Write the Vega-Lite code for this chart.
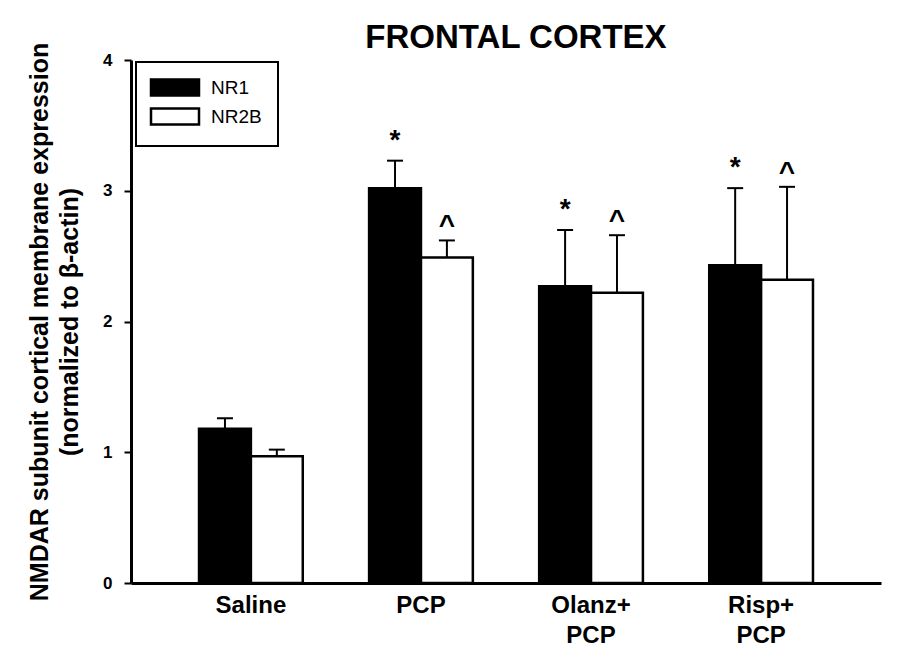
{
  "$schema": "https://vega.github.io/schema/vega-lite/v6.json",
  "width": 750,
  "height": 523,
  "autosize": "none",
  "padding": {"left": 131, "top": 60, "right": 18, "bottom": 77},
  "background": "white",
  "config": {"view": {"stroke": null}, "font": "Liberation Sans", "legend": {"strokeColor": "black", "strokeWidth": 2}},
  "title": {"text": "FRONTAL CORTEX", "fontSize": 33, "fontWeight": "bold", "font": "Liberation Sans", "color": "black", "anchor": "middle", "dx": 10, "offset": -13},
  "data": {"values": [
    {"treatment": "Saline", "subunit": "NR1", "mean": 1.18, "upper": 1.26, "sig": ""},
    {"treatment": "Saline", "subunit": "NR2B", "mean": 0.97, "upper": 1.02, "sig": ""},
    {"treatment": "PCP", "subunit": "NR1", "mean": 3.02, "upper": 3.23, "sig": "*"},
    {"treatment": "PCP", "subunit": "NR2B", "mean": 2.49, "upper": 2.62, "sig": "^"},
    {"treatment": "Olanz+PCP", "subunit": "NR1", "mean": 2.27, "upper": 2.70, "sig": "*"},
    {"treatment": "Olanz+PCP", "subunit": "NR2B", "mean": 2.22, "upper": 2.66, "sig": "^"},
    {"treatment": "Risp+PCP", "subunit": "NR1", "mean": 2.43, "upper": 3.02, "sig": "*"},
    {"treatment": "Risp+PCP", "subunit": "NR2B", "mean": 2.32, "upper": 3.03, "sig": "^"}
  ]},
  "encoding": {
    "x": {
      "field": "treatment", "type": "nominal",
      "sort": ["Saline", "PCP", "Olanz+PCP", "Risp+PCP"],
      "scale": {"paddingInner": 0.39, "paddingOuter": 0.4},
      "axis": {
        "title": null, "labelAngle": 0, "ticks": false,
        "domainColor": "black", "domainWidth": 3,
        "labelFont": "Liberation Sans", "labelFontSize": 24, "labelFontWeight": "bold", "labelColor": "black",
        "labelPadding": 10, "labelLineHeight": 30, "labelBaseline": "top",
        "labelExpr": "split(replace(datum.value, '+', '+|'), '|')"
      }
    },
    "xOffset": {"field": "subunit", "type": "nominal", "sort": ["NR1", "NR2B"], "scale": {"paddingInner": 0, "paddingOuter": 0}}
  },
  "layer": [
    {
      "mark": {"type": "bar", "stroke": "black", "strokeWidth": 2.5, "opacity": 1},
      "encoding": {
        "y": {
          "field": "mean", "type": "quantitative",
          "scale": {"domain": [0, 4], "nice": false},
          "axis": {
            "title": ["NMDAR subunit cortical membrane expression", "(normalized to β-actin)"],
            "values": [0, 1, 2, 3, 4], "format": "d", "grid": false,
            "domainColor": "black", "domainWidth": 3,
            "tickColor": "black", "tickWidth": 2, "tickSize": 7,
            "labelFont": "Liberation Sans", "labelFontSize": 17, "labelFontWeight": "bold", "labelColor": "black", "labelPadding": 12,
            "titleFont": "Liberation Sans", "titleFontSize": 25, "titleFontWeight": "bold", "titleColor": "black",
            "titlePadding": 20.5, "titleLineHeight": 29.5
          }
        },
        "fill": {
          "field": "subunit", "type": "nominal",
          "scale": {"domain": ["NR1", "NR2B"], "range": ["black", "white"]},
          "legend": {
            "title": null, "orient": "none", "legendX": 5, "legendY": 2, "direction": "vertical",
            "symbolType": "M-3,-1H3V1H-3Z", "symbolSize": 256, "symbolOffset": 13.5,
            "symbolStrokeColor": "black", "symbolStrokeWidth": 2.5, "symbolOpacity": 1,
            "labelFont": "Liberation Sans", "labelFontSize": 19, "labelColor": "black", "labelOffset": 26.5,
            "padding": 16, "rowPadding": 2,
            "fillColor": "white"
          }
        }
      }
    },
    {
      "mark": {"type": "rule", "strokeWidth": 2, "color": "black"},
      "encoding": {
        "y": {"field": "mean", "type": "quantitative"},
        "y2": {"field": "upper"}
      }
    },
    {
      "mark": {"type": "tick", "size": 16, "thickness": 2, "color": "black", "opacity": 1, "orient": "horizontal"},
      "encoding": {
        "y": {"field": "upper", "type": "quantitative"}
      }
    },
    {
      "transform": [{"filter": "datum.sig == '*'"}],
      "mark": {"type": "text", "font": "Liberation Sans", "fontSize": 28, "fontWeight": "bold", "color": "black", "baseline": "alphabetic", "dy": -12},
      "encoding": {
        "y": {"field": "upper", "type": "quantitative"},
        "text": {"field": "sig"}
      }
    },
    {
      "transform": [{"filter": "datum.sig == '^'"}],
      "mark": {"type": "text", "font": "Liberation Sans", "fontSize": 28, "fontWeight": "bold", "color": "black", "baseline": "alphabetic", "dy": -6},
      "encoding": {
        "y": {"field": "upper", "type": "quantitative"},
        "text": {"field": "sig"}
      }
    }
  ]
}
